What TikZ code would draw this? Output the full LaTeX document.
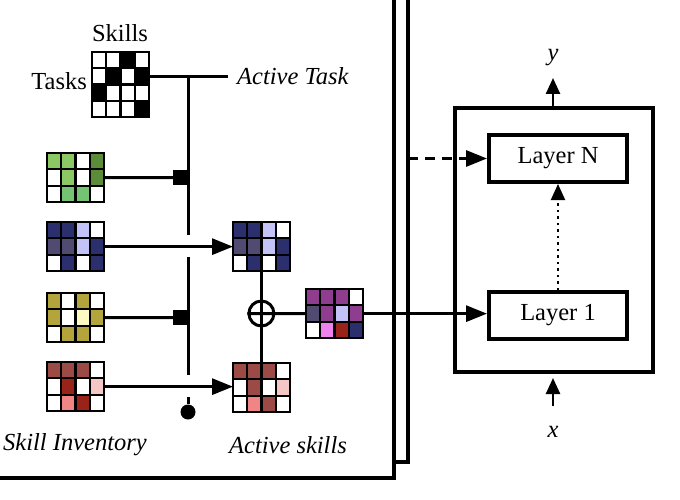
\documentclass[tikz,border=0pt]{standalone}
\usepackage{fontspec}
\setmainfont{Liberation Serif}
\usetikzlibrary{arrows.meta}
\definecolor{glight}{HTML}{8CC864}
\definecolor{gdark}{HTML}{5B8C3A}
\definecolor{gmid}{HTML}{74C474}
\definecolor{navy}{HTML}{2C2F6E}
\definecolor{lav}{HTML}{C3C3F7}
\definecolor{gpurp}{HTML}{514B72}
\definecolor{olive}{HTML}{B3A43B}
\definecolor{lyel}{HTML}{FCF9C2}
\definecolor{brn}{HTML}{9B4A45}
\definecolor{dred}{HTML}{9A2319}
\definecolor{lpink}{HTML}{F5C6C6}
\definecolor{salm}{HTML}{EF8585}
\definecolor{purp}{HTML}{8F3D8F}
\definecolor{pinkc}{HTML}{EE82EE}
\newcommand\cwn{14.2}
\newcommand\chn{16.3}
% #1 name, #2 x, #3 y (top-left), #4 rows, #5 colours row-major (4 columns)
\newcommand\cellmat[5]{%
  \node[inner sep=0pt, minimum width=4*\cwn pt, minimum height=#4*\chn pt, anchor=north west] (#1) at (#2,#3) {};
  \foreach \c [count=\k from 0] in {#5}{
    \pgfmathsetmacro\cx{#2+mod(\k,4)*\cwn}
    \pgfmathsetmacro\cy{#3+div(\k,4)*\chn}
    \fill[\c] (\cx,\cy) rectangle ++(\cwn,\chn);
  }
  \foreach \i in {0,...,4} \draw[gridline] ({#2+\i*\cwn},#3) -- ++(0,{#4*\chn});
  \foreach \j in {0,...,#4} \draw[gridline] ({#2-1.1},{#3+\j*\chn}) -- ++({4*\cwn+2.2},0);
}
\tikzset{
  gridline/.style={line width=2.2pt, black},
  conn/.style={line width=3pt},
  arr/.style={conn, -{Triangle[length=21pt,width=16pt]}},
  sarr/.style={line width=2.5pt, -{Triangle[length=16pt,width=14pt]}},
  frame/.style={line width=4pt},
  layerbox/.style={draw, line width=4pt, minimum width=138pt, minimum height=47pt, inner sep=0pt},
  lbl/.style={inner sep=0pt},
}
\begin{document}
\begin{tikzpicture}[x=1pt,y=-1pt,font=\fontsize{24.5}{29}\selectfont]
\useasboundingbox (0,0) rectangle (680,500);
% frames
\draw[frame] (394,-5) -- (394,478) -- (-5,478);
\draw[frame] (408,-5) -- (408,462) -- (394,462);
% task matrix
\cellmat{task}{92}{52}{4}{white,white,black,white,white,black,white,black,black,white,white,white,white,white,white,black}
\node[lbl] (skills) at (120,33) {Skills};
\node[lbl, anchor=east] (tasks) at (87,81) {Tasks};
% inventory
\cellmat{green}{47}{153}{3}{glight,glight,white,gdark,white,glight,white,gdark,white,gmid,gmid,white}
\cellmat{blue}{47}{222}{3}{navy,navy,lav,white,gpurp,gpurp,lav,navy,white,navy,white,navy}
\cellmat{yellow}{47}{293}{3}{olive,white,olive,white,olive,white,lyel,olive,white,olive,olive,white}
\cellmat{red}{47}{362}{3}{brn,brn,brn,white,white,dred,white,lpink,white,salm,dred,white}
% active
\cellmat{ablue}{233}{222}{3}{navy,navy,lav,white,gpurp,gpurp,lav,navy,white,navy,white,navy}
\cellmat{ared}{233}{363}{3}{brn,brn,brn,white,white,brn,white,lpink,white,salm,brn,white}
\cellmat{comb}{306}{289}{3}{purp,purp,purp,white,gpurp,purp,lav,purp,white,pinkc,dred,navy}
% bus
\coordinate (tj) at (188,76.5);
\coordinate (tend) at (228,76.5);
\coordinate (b1) at (188,235);
\coordinate (b2t) at (188,257);
\coordinate (b2b) at (188,375);
\coordinate (b3t) at (188,397);
\node[fill, circle, inner sep=0pt, minimum size=15pt] (dot) at (188,412) {};
\node[fill, inner sep=0pt, minimum size=15pt] (gate1) at (180.5,177.5) {};
\node[fill, inner sep=0pt, minimum size=15pt] (gate2) at (180.5,317.5) {};
\node[lbl, anchor=west] (atask) at (237,76) {\itshape Active Task};
\draw[conn] (task.east |- tj) -- (tend);
\draw[conn] (tj) -- (b1);
\draw[conn] (b2t) -- (b2b);
\draw[conn] (b3t) -- (dot);
\draw[conn] (green.east) -- (gate1.west);
\draw[conn] (yellow.east) -- (gate2.west);
\draw[arr] (blue.east) -- (blue.east -| ablue.west);
\draw[arr] (red.east) -- (red.east -| ared.west);
% oplus
\node[draw, circle, line width=3pt, minimum size=25pt, inner sep=0pt] (op) at (261.4,313.5) {};
\draw[conn] (ablue.south) -- (ared.north);
\draw[conn] (op.west) -- (comb.west);
% labels
\node[lbl] (inv) at (75,445) {\itshape Skill Inventory};
\node[lbl] (askills) at (288,445) {\itshape Active skills};
% right panel
\node[draw, line width=4pt, minimum width=198pt, minimum height=264pt, inner sep=0pt] (net) at (554,240) {};
\node[layerbox] (ln) at (558,158.5) {Layer N};
\node[layerbox] (l1) at (558,315.5) {Layer 1};
\draw[arr] (comb.east) -- (comb.east -| l1.west);
\coordinate (dstart) at (408,158.5);
\draw[arr, dash pattern=on 10pt off 7pt] (dstart) -- (ln.west);
\draw[sarr, line width=2pt, dash pattern=on 2.5pt off 4pt] (l1.north) -- (ln.south);
\coordinate (yend) at (553,78);
\coordinate (xstart) at (553,406);
\draw[sarr] (net.north -| yend) -- (yend);
\draw[sarr] (xstart) -- ([yshift=-4pt]net.south -| xstart);
\node[lbl] (ylab) at (553,58) {\itshape y};
\node[lbl] (xlab) at (553,432) {\itshape x};
\end{tikzpicture}
\end{document}
